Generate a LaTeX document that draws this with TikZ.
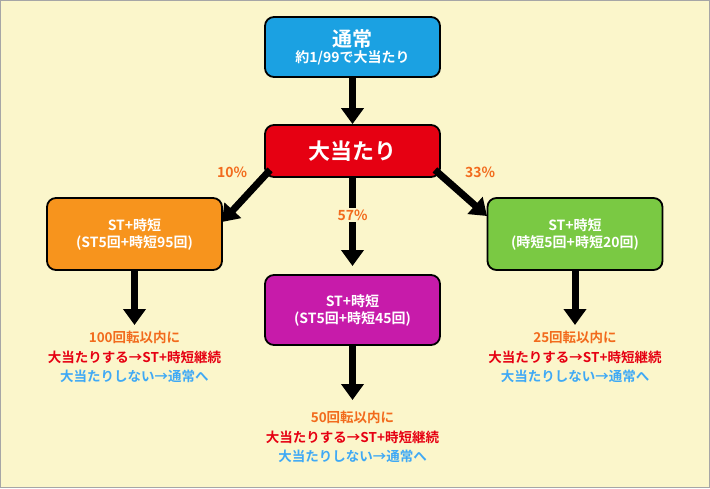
\documentclass[tikz,border=0pt]{standalone}
\usepackage{fontspec}
\setmainfont{Noto Sans CJK JP}[BoldFont={Noto Sans CJK JP Bold}]
\usetikzlibrary{arrows.meta}
\definecolor{bg}{HTML}{FBF6CB}
\definecolor{cblue}{HTML}{1BA1E2}
\definecolor{cred}{HTML}{E60012}
\definecolor{corange}{HTML}{F7941D}
\definecolor{cmag}{HTML}{C71BAA}
\definecolor{cgreen}{HTML}{7AC943}
\definecolor{torange}{HTML}{F26B1D}
\definecolor{tblue}{HTML}{3FA9F5}
\begin{document}
\begin{tikzpicture}[x=1pt,y=-1pt,font=\fontsize{14}{17}\bfseries\selectfont,
 box/.style={draw=black,line width=1.8pt,rounded corners=9pt,text=white,align=center,minimum width=175pt,inner sep=0pt},
 arr/.style={line width=7pt,-{Triangle[width=22pt,length=16pt]}},
 pct/.style={text=torange,font=\fontsize{14}{17}\bfseries\selectfont},
 res/.style={align=center,font=\fontsize{13.5}{19.5}\bfseries\selectfont,inner sep=0pt}]
\fill[bg,draw=gray!70,line width=1pt] (0.5,0.5) rectangle (709.5,487.5);
\useasboundingbox (0,0) rectangle (710,488);
\node[box,fill=cblue,minimum height=60pt] (n) at (352.5,47) {{\fontsize{20}{22}\selectfont 通常}\\[-1pt]約1/99で大当たり};
\node[box,fill=cred,minimum height=52pt,font=\fontsize{22}{24}\bfseries\selectfont] (o) at (352.5,151) {大当たり};
\node[box,fill=corange,minimum height=72pt] (l) at (134.5,234) {ST+時短\\(ST5回+時短95回)};
\node[box,fill=cmag,minimum height=70pt] (m) at (352.5,310) {ST+時短\\(ST5回+時短45回)};
\node[box,fill=cgreen,minimum height=72pt] (r) at (575,234) {ST+時短\\(時短5回+時短20回)};
\coordinate (la) at (134.5,325);
\coordinate (ma) at (352.5,400);
\coordinate (ra) at (575,325);
\draw[arr] (n.south) -- (o.north);
\draw[arr] (o.south west)++(6,-8) -- (222,222);
\draw[arr] (o.south) -- (352.5,266);
\draw[arr] (o.south east)++(-6,-8) -- (487,216);
\draw[arr] (l.south) -- (la);
\draw[arr] (m.south) -- (ma);
\draw[arr] (r.south) -- (ra);
\node[pct] (p1) at (232,172) {10\%};
\node[pct,fill=bg,inner sep=2pt] (p2) at (352.5,215) {57\%};
\node[pct] (p3) at (480,172) {33\%};
\node[res] (tl) at (134.5,357) {\textcolor{torange}{100回転以内に}\\\textcolor{cred}{大当たりする→ST+時短継続}\\\textcolor{tblue}{大当たりしない→通常へ}};
\node[res] (tm) at (352.5,437) {\textcolor{torange}{50回転以内に}\\\textcolor{cred}{大当たりする→ST+時短継続}\\\textcolor{tblue}{大当たりしない→通常へ}};
\node[res] (tr) at (575,357) {\textcolor{torange}{25回転以内に}\\\textcolor{cred}{大当たりする→ST+時短継続}\\\textcolor{tblue}{大当たりしない→通常へ}};
\end{tikzpicture}
\end{document}
